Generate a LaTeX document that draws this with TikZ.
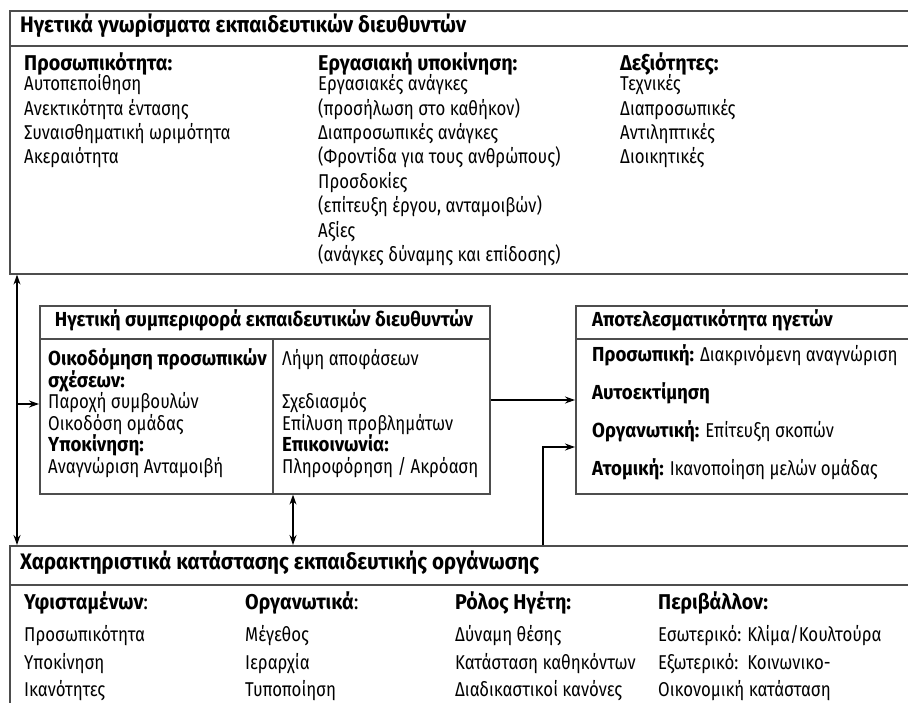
\documentclass[tikz,border=0pt]{standalone}
\usepackage{fontspec}
\setmainfont[FakeStretch=0.84]{Fira Sans}
\newfontfamily\hdfont[FakeStretch=0.92]{Fira Sans}
\usetikzlibrary{arrows.meta}
\definecolor{boxgray}{HTML}{4D4D4D}
\newcommand{\bfA}{\hdfont\bfseries\fontsize{21.4}{25}\selectfont}
\newcommand{\bfB}{\hdfont\bfseries\fontsize{20.3}{24}\selectfont}
\newcommand{\bfC}{\hdfont\bfseries\fontsize{22.4}{26}\selectfont}
\tikzset{
  txt/.style={anchor=west, inner sep=0pt, text height=14pt, text depth=4.5pt, font=\fontsize{20}{24}\selectfont},
  hd/.style={txt, font=\bfA},
  hdm/.style={txt, font=\bfB},
  hdt/.style={txt, font=\bfC},
  box/.style={draw=boxgray, line width=1.6pt, anchor=north west, inner sep=0pt},
  inner/.style={draw=boxgray, line width=1.4pt},
  conn/.style={draw=black, line width=1.3pt},
  tip/.style={-{Stealth[length=10pt,width=7pt]}},
  bothtips/.style={{Stealth[length=10pt,width=7pt]}-{Stealth[length=10pt,width=7pt]}}
}
\begin{document}
\begin{tikzpicture}[x=1pt,y=-1pt]
\useasboundingbox (0,0) rectangle (908,702);
\begin{scope}
\clip (0,0) rectangle (908,702);
% boxes
\node[box, minimum width=920pt, minimum height=263pt] (topbox) at (9,10) {};
\node[box, minimum width=450pt, minimum height=188pt] (midbox) at (39,305) {};
\node[box, minimum width=350pt, minimum height=188pt] (rbox) at (575,305) {};
\node[box, minimum width=920pt, minimum height=220pt] (botbox) at (9,545) {};
% inner lines
\draw[inner] (9,46) -- (930,46);
\draw[inner] (39,339) -- (489,339);
\draw[inner] (273,339) -- (273,493);
\draw[inner] (575,339) -- (930,339);
\draw[inner] (9,585) -- (930,585);
% top box text
\node[hdt] (th) at (20,28) {Ηγετικά γνωρίσματα εκπαιδευτικών διευθυντών};
\node[hd] (c1h) at (24,66) {Προσωπικότητα:};
\node[hd] (c2h) at (318,66) {Εργασιακή υποκίνηση:};
\node[hd] (c3h) at (620,66) {Δεξιότητες:};
\foreach \t [count=\i from 0] in {Αυτοπεποίθηση, Ανεκτικότητα έντασης, Συναισθηματική ωριμότητα, Ακεραιότητα}
  \node[txt] (pa\i) at (24,{86+24.4*\i}) {\t};
\foreach \t [count=\i from 0] in {Εργασιακές ανάγκες, (προσήλωση στο καθήκον), Διαπροσωπικές ανάγκες, (Φροντίδα για τους ανθρώπους), Προσδοκίες, {(επίτευξη έργου, ανταμοιβών)}, Αξίες, (ανάγκες δύναμης και επίδοσης)}
  \node[txt] (pb\i) at (318,{86+24.4*\i}) {\t};
\foreach \t [count=\i from 0] in {Τεχνικές, Διαπροσωπικές, Αντιληπτικές, Διοικητικές}
  \node[txt] (pc\i) at (620,{86+24.4*\i}) {\t};
% middle box text
\node[hdm, anchor=center] (mh) at (264,322) {Ηγετική συμπεριφορά εκπαιδευτικών διευθυντών};
\node[hdm] (ma0) at (48,361) {Οικοδόμηση προσωπικών};
\node[hdm] (ma1) at (48,382.5) {σχέσεων:};
\node[txt] (ma2) at (48,404) {Παροχή συμβουλών};
\node[txt] (ma3) at (48,425.5) {Οικοδόση ομάδας};
\node[hdm] (ma4) at (48,447) {Υποκίνηση:};
\node[txt] (ma5) at (48,468.5) {Αναγνώριση Ανταμοιβή};
\node[txt] (mb0) at (282,361) {Λήψη αποφάσεων};
\node[txt] (mb2) at (282,404) {Σχεδιασμός};
\node[txt] (mb3) at (282,425.5) {Επίλυση προβλημάτων};
\node[hdm] (mb4) at (282,447) {Επικοινωνία:};
\node[txt] (mb5) at (282,468.5) {Πληροφόρηση / Ακρόαση};
% right box text
\node[hdm] (rh) at (592,322) {Αποτελεσματικότητα ηγετών};
\node[txt] (r0) at (592,357) {{\bfB Προσωπική:} Διακρινόμενη αναγνώριση};
\node[hdm] (r1) at (592,395) {Αυτοεκτίμηση};
\node[txt] (r2) at (592,433) {{\bfB Οργανωτική:} Επίτευξη σκοπών};
\node[txt] (r3) at (592,471) {{\bfB Ατομική:} Ικανοποίηση μελών ομάδας};
% bottom box text
\node[hdt] (bh) at (20,565) {Χαρακτηριστικά κατάστασης εκπαιδευτικής οργάνωσης};
\node[hd] (b1h) at (24,605) {Υφισταμένων{\mdseries:}};
\node[hd] (b2h) at (245,605) {Οργανωτικά{\mdseries:}};
\node[hd] (b3h) at (455,605) {Ρόλος Ηγέτη:};
\node[hd] (b4h) at (658,605) {Περιβάλλον:};
\foreach \t [count=\i from 0] in {Προσωπικότητα, Υποκίνηση, Ικανότητες}
  \node[txt] (ba\i) at (24,{637+27.5*\i}) {\t};
\foreach \t [count=\i from 0] in {Μέγεθος, Ιεραρχία, Τυποποίηση}
  \node[txt] (bb\i) at (245,{637+27.5*\i}) {\t};
\foreach \t [count=\i from 0] in {Δύναμη θέσης, Κατάσταση καθηκόντων, Διαδικαστικοί κανόνες}
  \node[txt] (bc\i) at (455,{637+27.5*\i}) {\t};
\foreach \t [count=\i from 0] in {Εσωτερικό: Κλίμα/Κουλτούρα, Εξωτερικό:\ \ Κοινωνικο-, Οικονομική κατάσταση}
  \node[txt] (bd\i) at (658,{637+27.5*\i}) {\t};
% connectors
\coordinate (lx) at (17,0);
\coordinate (la) at (17,404);
\coordinate (ma) at (0,400);
\coordinate (ba) at (543,447);
\coordinate (da) at (293,0);
\draw[conn, bothtips] (topbox.south -| lx) -- (botbox.north -| lx);
\draw[conn, tip] (la) -- (la -| midbox.west);
\draw[conn, tip] (ma -| midbox.east) -- (ma -| rbox.west);
\draw[conn, tip] (ba |- botbox.north) -- (ba) -- (ba -| rbox.west);
\draw[conn, bothtips] (midbox.south -| da) -- (botbox.north -| da);
\end{scope}
\end{tikzpicture}
\end{document}
